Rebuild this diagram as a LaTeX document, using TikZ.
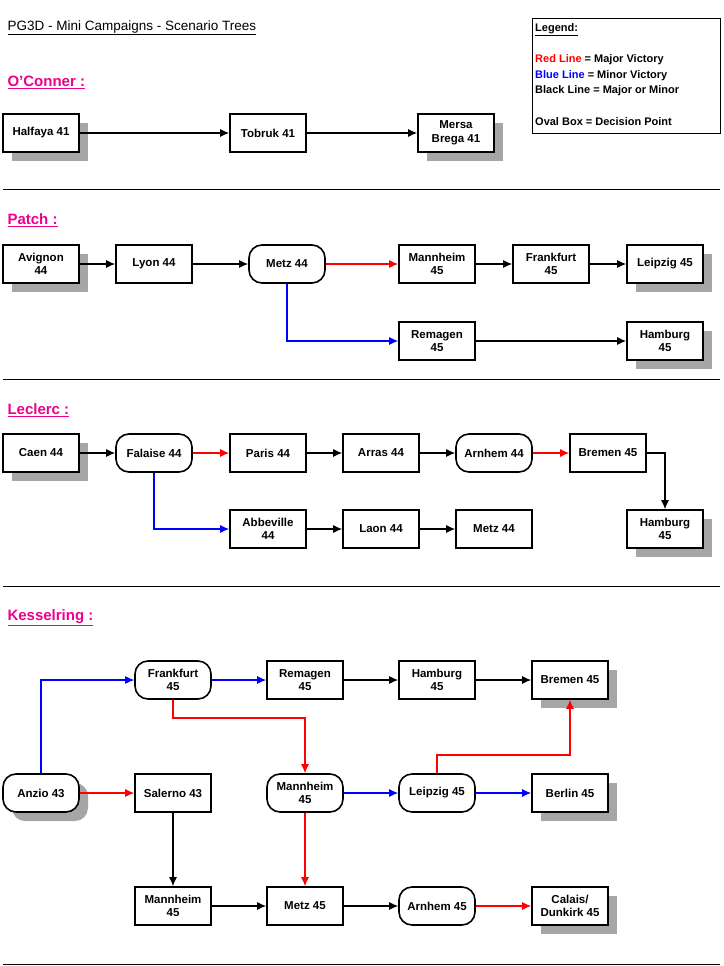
\documentclass[tikz,border=0pt]{standalone}
\usepackage{fontspec}
\setmainfont{Liberation Sans}
\usetikzlibrary{arrows.meta,shadows}
\tikzset{
  box/.style={draw, line width=1.6pt, fill=white, minimum width=76pt, minimum height=38pt, align=center, font=\bfseries\fontsize{11.5}{13.5}\selectfont, inner sep=1pt},
  oval/.style={box, rounded corners=13pt},
  shd/.style={drop shadow={shadow xshift=9pt, shadow yshift=-9pt, fill=black!35, opacity=1}},
  arr/.style={-{Latex[length=9pt,width=8pt]}, line width=1.2pt},
  red/.style={arr, draw=red},
  blue/.style={arr, draw=blue},
  sect/.style={anchor=west, text=magenta, font=\bfseries\fontsize{15}{17}\selectfont},
}
\newcommand{\ul}[1]{\underline{#1}}
\begin{document}
\begin{tikzpicture}[x=1pt,y=-1pt]
\useasboundingbox (0,0) rectangle (723,966);
% title and legend
\node[anchor=west, font=\fontsize{13.5}{15}\selectfont](title) at (4,28) {\ul{PG3D - Mini Campaigns - Scenario Trees}};
\draw (532,18) rectangle (720,133);
\node[anchor=north west, align=left, inner sep=0pt, font=\bfseries\fontsize{11}{15.5}\selectfont](leg) at (535,23)
  {\ul{Legend:}\\[16pt]{\color{red}Red Line} = Major Victory\\{\color{blue}Blue Line} = Minor Victory\\Black Line = Major or Minor\\[16pt]Oval Box = Decision Point};
% separators
\foreach \y in {189,379,586,964} \draw (3,\y) -- (720,\y);
% O'Conner
\node[sect](s1) at (4,82) {\ul{O'Conner :}};
\node[box, shd](hal) at (41,133) {Halfaya 41};
\node[box](tob) at (268,133) {Tobruk 41};
\node[box, shd](mer) at (456,133) {Mersa\\Brega 41};
\draw[arr] (hal) -- (tob);
\draw[arr] (tob) -- (mer);
% Patch
\node[sect](s2) at (4,220) {\ul{Patch :}};
\node[box, shd](avi) at (41,264) {Avignon\\44};
\node[box](lyo) at (154,264) {Lyon 44};
\node[oval](pmet) at (287,264) {Metz 44};
\node[box](pman) at (437,264) {Mannheim\\45};
\node[box](pfra) at (551,264) {Frankfurt\\45};
\node[box, shd](plei) at (665,264) {Leipzig 45};
\node[box](prem) at (437,341) {Remagen\\45};
\node[box, shd](pham) at (665,341) {Hamburg\\45};
\draw[arr] (avi) -- (lyo);
\draw[arr] (lyo) -- (pmet);
\draw[red] (pmet) -- (pman);
\draw[arr] (pman) -- (pfra);
\draw[arr] (pfra) -- (plei);
\draw[blue] (pmet) |- (prem);
\draw[arr] (prem) -- (pham);
% Leclerc
\node[sect](s3) at (4,410) {\ul{Leclerc :}};
\node[box, shd](cae) at (41,453) {Caen 44};
\node[oval](fal) at (154,453) {Falaise 44};
\node[box](par) at (268,453) {Paris 44};
\node[box](arr) at (381,453) {Arras 44};
\node[oval](larn) at (494,453) {Arnhem 44};
\node[box](lbre) at (608,453) {Bremen 45};
\node[box](abb) at (268,529) {Abbeville\\44};
\node[box](lao) at (381,529) {Laon 44};
\node[box](lmet) at (494,529) {Metz 44};
\node[box, shd](lham) at (665,529) {Hamburg\\45};
\draw[arr] (cae) -- (fal);
\draw[red] (fal) -- (par);
\draw[arr] (par) -- (arr);
\draw[arr] (arr) -- (larn);
\draw[red] (larn) -- (lbre);
\draw[blue] (fal) |- (abb);
\draw[arr] (abb) -- (lao);
\draw[arr] (lao) -- (lmet);
\draw[arr] (lbre.east) -| (lham);
% Kesselring
\node[sect](s4) at (4,618) {\ul{Kesselring :}};
\node[oval](kfra) at (173,680) {Frankfurt\\45};
\node[box](krem) at (305,680) {Remagen\\45};
\node[box](kham) at (437,680) {Hamburg\\45};
\node[box, shd](kbre) at (570,680) {Bremen 45};
\node[oval, shd](anz) at (41,793) {Anzio 43};
\node[box](sal) at (173,793) {Salerno 43};
\node[oval](kman) at (305,793) {Mannheim\\45};
\node[oval](klei) at (437,793) {Leipzig 45};
\node[box, shd](ber) at (570,793) {Berlin 45};
\node[box](kman2) at (173,906) {Mannheim\\45};
\node[box](kmet) at (305,906) {Metz 45};
\node[oval](karn) at (437,906) {Arnhem 45};
\node[box, shd](cal) at (570,906) {Calais/\\Dunkirk 45};
\draw[blue] (anz) |- (kfra);
\draw[blue] (kfra) -- (krem);
\draw[arr] (krem) -- (kham);
\draw[arr] (kham) -- (kbre);
\draw[red] (kfra) -- ++(0,38) -| (kman);
\draw[red] (anz) -- (sal);
\draw[blue] (kman) -- (klei);
\draw[blue] (klei) -- (ber);
\draw[red] (klei) -- ++(0,-38) -| (kbre);
\draw[arr] (sal) -- (kman2);
\draw[red] (kman) -- (kmet);
\draw[arr] (kman2) -- (kmet);
\draw[arr] (kmet) -- (karn);
\draw[red] (karn) -- (cal);
\end{tikzpicture}
\end{document}
